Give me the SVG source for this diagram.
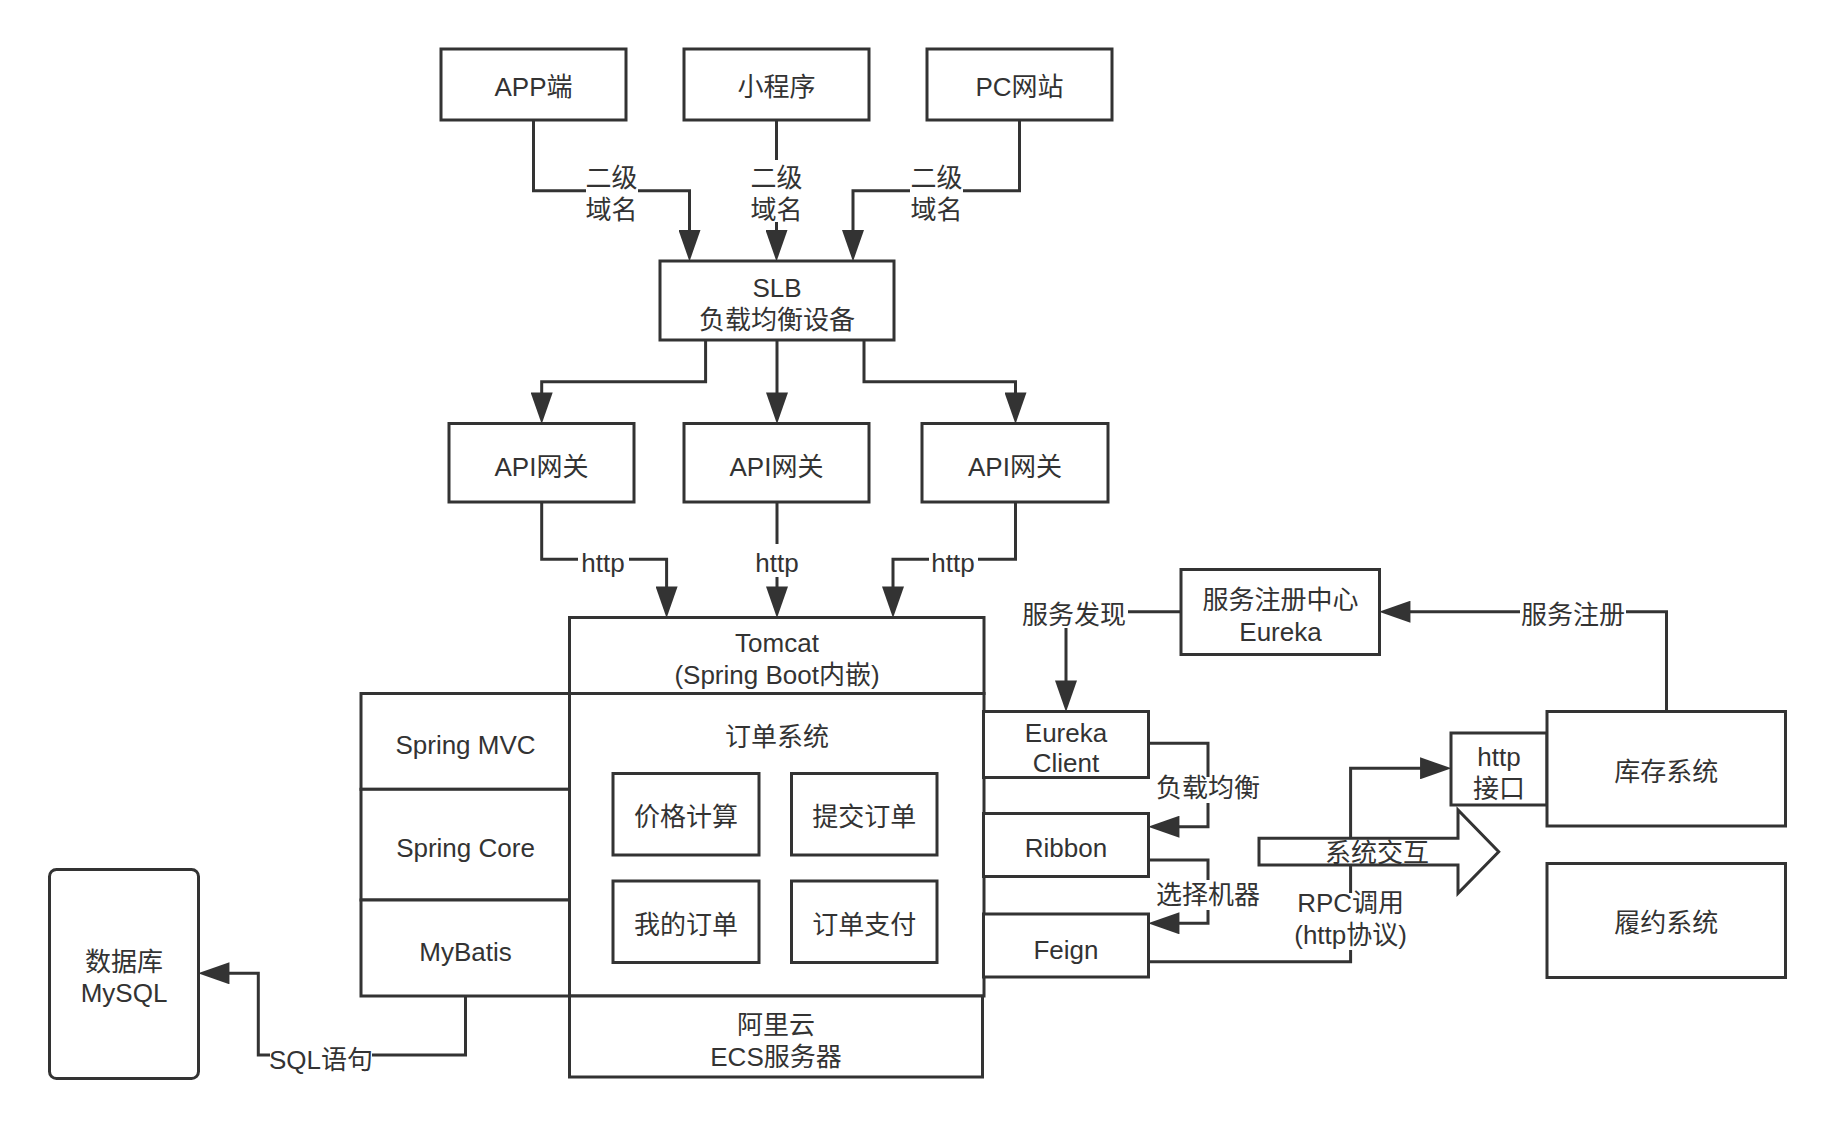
<svg xmlns="http://www.w3.org/2000/svg" width="1836" height="1128" viewBox="0 0 1836 1128">
<defs>
<style>
.b{fill:#fff;stroke:#333;stroke-width:3}
.l{fill:none;stroke:#333;stroke-width:3}
.t{font-family:"Liberation Sans","Noto Sans CJK SC",sans-serif;font-size:26px;fill:#333;text-anchor:middle}
.bg{fill:#fff;stroke:none}
</style>
<marker id="ah" markerUnits="userSpaceOnUse" markerWidth="32" markerHeight="22" refX="20" refY="10.5" orient="auto" viewBox="0 0 30 21">
<path d="M0,0 L30,10.5 L0,21 z" fill="#333"/>
</marker>
</defs>
<rect width="1836" height="1128" fill="#fff"/>

<g id="connectors">
<path class="l" d="M533.5,120 V190.7 H689.5 V251" marker-end="url(#ah)"/>
<path class="l" d="M776.5,120 V251" marker-end="url(#ah)"/>
<path class="l" d="M1019.5,120 V190.7 H853 V251" marker-end="url(#ah)"/>
<path class="l" d="M705.6,340 V381.7 H541.7 V413.5" marker-end="url(#ah)"/>
<path class="l" d="M777,340 V413.5" marker-end="url(#ah)"/>
<path class="l" d="M864,340 V381.7 H1015.5 V413.5" marker-end="url(#ah)"/>
<path class="l" d="M541.7,502 V559.3 H666.6 V607.5" marker-end="url(#ah)"/>
<path class="l" d="M777,502 V607.5" marker-end="url(#ah)"/>
<path class="l" d="M1015.5,502 V559.3 H893 V607.5" marker-end="url(#ah)"/>
<path class="l" d="M465.5,996 V1055 H258.3 V973.3 H208.5" marker-end="url(#ah)"/>
<path class="l" d="M1181,611.7 H1066 V701.5" marker-end="url(#ah)"/>
<path class="l" d="M1666.5,711.5 V611.7 H1389.5" marker-end="url(#ah)"/>
<path class="l" d="M1148.5,743.3 H1208 V826.7 H1158.5" marker-end="url(#ah)"/>
<path class="l" d="M1148.5,860 H1208 V923.3 H1158.5" marker-end="url(#ah)"/>
<path class="l" d="M1148.5,961.7 H1350.6 V768.3 H1441" marker-end="url(#ah)"/>
<rect class="bg" x="586" y="162" width="52" height="60"/>
<rect class="bg" x="750" y="160" width="53" height="62"/>
<rect class="bg" x="910" y="162" width="53" height="60"/>
<rect class="bg" x="578" y="547" width="51" height="32"/>
<rect class="bg" x="752" y="544" width="50" height="33"/>
<rect class="bg" x="929" y="547" width="49" height="32"/>
<rect class="bg" x="270" y="1043" width="102" height="32"/>
<rect class="bg" x="1020" y="598" width="108" height="30"/>
<rect class="bg" x="1520" y="598" width="106" height="32"/>
<rect class="bg" x="1158" y="777" width="100" height="26"/>
<rect class="bg" x="1158" y="880" width="100" height="30"/>
<rect class="bg" x="1289" y="893" width="121" height="57"/>
<text class="t" x="611.5" y="187">二级</text>
<text class="t" x="611.5" y="219">域名</text>
<text class="t" x="776.5" y="187">二级</text>
<text class="t" x="776.5" y="219">域名</text>
<text class="t" x="936.5" y="187">二级</text>
<text class="t" x="936.5" y="219">域名</text>
<text class="t" x="603" y="572">http</text>
<text class="t" x="777" y="572">http</text>
<text class="t" x="953" y="572">http</text>
<text class="t" x="321" y="1069">SQL语句</text>
<text class="t" x="1074" y="624">服务发现</text>
<text class="t" x="1573" y="624">服务注册</text>
<text class="t" x="1208" y="797">负载均衡</text>
<text class="t" x="1208" y="904">选择机器</text>
<text class="t" x="1350.6" y="912">RPC调用</text>
<text class="t" x="1350.6" y="944">(http协议)</text>
</g>

<g id="app"><rect class="b" x="441" y="49" width="185" height="71"/><text class="t" x="533.5" y="96">APP端</text></g>
<g id="miniprogram"><rect class="b" x="684" y="49" width="185" height="71"/><text class="t" x="776.5" y="96">小程序</text></g>
<g id="pc"><rect class="b" x="927" y="49" width="185" height="71"/><text class="t" x="1019.5" y="96">PC网站</text></g>
<g id="slb"><rect class="b" x="660" y="261" width="234" height="79"/><text class="t" x="777" y="297">SLB</text><text class="t" x="777" y="329">负载均衡设备</text></g>
<g id="api1"><rect class="b" x="449" y="423.5" width="185" height="78.5"/><text class="t" x="541.5" y="475.5">API网关</text></g>
<g id="api2"><rect class="b" x="684" y="423.5" width="185" height="78.5"/><text class="t" x="776.5" y="475.5">API网关</text></g>
<g id="api3"><rect class="b" x="922" y="423.5" width="186" height="78.5"/><text class="t" x="1015" y="475.5">API网关</text></g>
<g id="tomcat"><rect class="b" x="569.5" y="617.5" width="414.5" height="76"/><text class="t" x="777" y="652">Tomcat</text><text class="t" x="777" y="684">(Spring Boot内嵌)</text></g>
<g id="springmvc"><rect class="b" x="361" y="693.5" width="208.5" height="95.8"/><text class="t" x="465.5" y="754">Spring MVC</text></g>
<g id="springcore"><rect class="b" x="361" y="789.3" width="208.5" height="110.7"/><text class="t" x="465.5" y="857">Spring Core</text></g>
<g id="mybatis"><rect class="b" x="361" y="900" width="208.5" height="96"/><text class="t" x="465.5" y="960.5">MyBatis</text></g>
<g id="order"><rect class="b" x="569.5" y="693.5" width="414.5" height="302.5"/><text class="t" x="777" y="745.5">订单系统</text></g>
<g id="price"><rect class="b" x="613" y="773.5" width="146" height="81.5"/><text class="t" x="686" y="825.5">价格计算</text></g>
<g id="submit"><rect class="b" x="791.5" y="773.5" width="145.5" height="81.5"/><text class="t" x="864.3" y="825.5">提交订单</text></g>
<g id="myorder"><rect class="b" x="613" y="881" width="146" height="81.5"/><text class="t" x="686" y="934">我的订单</text></g>
<g id="pay"><rect class="b" x="791.5" y="881" width="145.5" height="81.5"/><text class="t" x="864.3" y="934">订单支付</text></g>
<g id="ecs"><rect class="b" x="569.5" y="996" width="413" height="81"/><text class="t" x="776" y="1034">阿里云</text><text class="t" x="776" y="1065.5">ECS服务器</text></g>
<g id="mysql"><rect class="b" x="49.5" y="869.5" width="149" height="209" rx="7"/><text class="t" x="124" y="970.5">数据库</text><text class="t" x="124" y="1002">MySQL</text></g>
<g id="eureka"><rect class="b" x="1181" y="569.5" width="198.5" height="85"/><text class="t" x="1280.5" y="609">服务注册中心</text><text class="t" x="1280.5" y="640.5">Eureka</text></g>
<g id="eurekaclient"><rect class="b" x="983.5" y="711.5" width="165" height="66"/><text class="t" x="1066" y="741.5">Eureka</text><text class="t" x="1066" y="772">Client</text></g>
<g id="ribbon"><rect class="b" x="983.5" y="813.5" width="165" height="63"/><text class="t" x="1066" y="857">Ribbon</text></g>
<g id="feign"><rect class="b" x="983.5" y="914" width="165" height="63"/><text class="t" x="1066" y="959">Feign</text></g>
<g id="httpapi"><rect class="b" x="1451" y="733" width="96" height="72"/><text class="t" x="1499" y="765.5">http</text><text class="t" x="1499" y="798">接口</text></g>
<g id="inventory"><rect class="b" x="1547" y="711.5" width="238.5" height="114.5"/><text class="t" x="1666.3" y="780.5">库存系统</text></g>
<g id="fulfill"><rect class="b" x="1547" y="863.5" width="238.5" height="114"/><text class="t" x="1666.3" y="932">履约系统</text></g>
<g id="interaction"><polygon class="b" points="1259,838.3 1458,838.3 1458,810 1498.7,851.7 1458,893.3 1458,865 1259,865"/><text class="t" x="1377" y="862">系统交互</text></g>
</svg>
